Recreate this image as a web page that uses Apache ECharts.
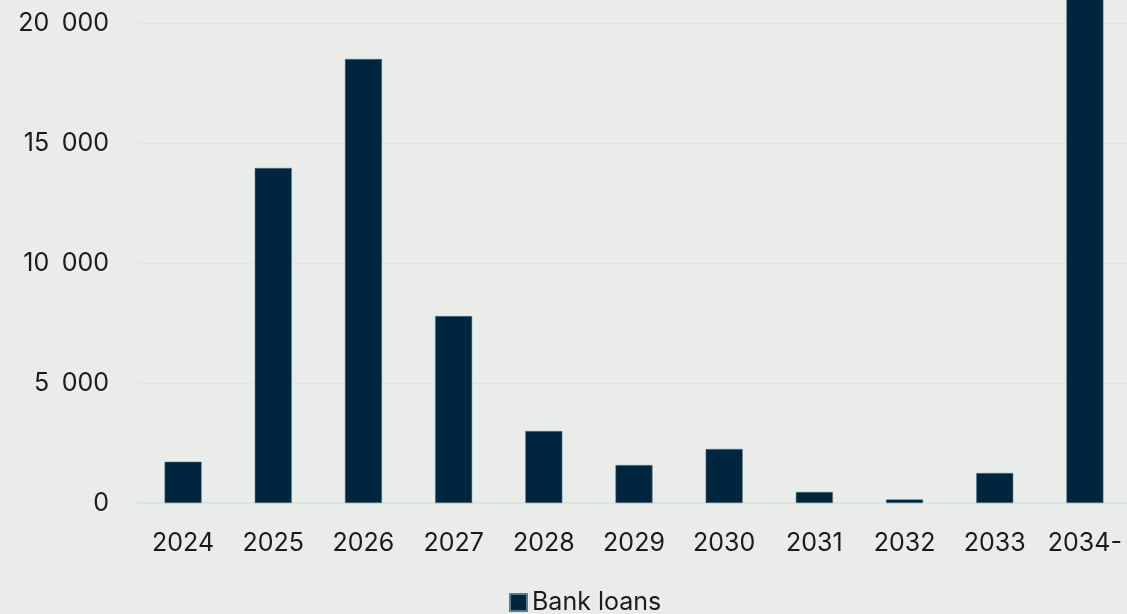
<!DOCTYPE html>
<html>
<head>
<meta charset="utf-8">
<script src="https://cdn.jsdelivr.net/npm/echarts@6/dist/echarts.min.js"></script>
<style>
html,body{margin:0;padding:0;background:#eaecea;}
#c{width:1127px;height:614px;}
</style>
</head>
<body>
<div id="c"></div>
<script>
const categories = ['2024','2025','2026','2027','2028','2029','2030','2031','2032','2033','2034-'];
const bankLoans = [1720, 13960, 18500, 7790, 3000, 1580, 2250, 460, 150, 1250, 24000];
const yTicks = [0, 5000, 10000, 15000, 20000, 25000];
const seriesName = 'Bank loans';

const chart = echarts.init(document.getElementById('c'), null, {renderer:'canvas'});
chart.setOption({
  backgroundColor:'#eaecea',
  animation:false,
  textStyle:{fontFamily:'Inter'},
  grid:{left:138, right:-3, top:-97, bottom:111, containLabel:false, outerBoundsMode:'none'},
  legend:{
    data:[seriesName], top:590, left:509, icon:'rect', itemWidth:17, itemHeight:17, itemGap:6,
    padding:0,
    textStyle:{fontSize:25, color:'#1a1a1a', fontFamily:'Inter'}
  },
  xAxis:{
    type:'category', data:categories,
    axisLine:{show:true, lineStyle:{color:'#d3e6e2', width:2}},
    axisTick:{show:false},
    axisLabel:{interval:0, fontSize:25, color:'#1a1a1a', margin:28, fontFamily:'Inter'}
  },
  yAxis:{
    type:'value', min:yTicks[0], max:yTicks[yTicks.length-1], interval:yTicks[1]-yTicks[0],
    axisLine:{show:false}, axisTick:{show:false},
    splitLine:{lineStyle:{color:'#e1e5e1', width:1}},
    axisLabel:{fontSize:25, color:'#1a1a1a', margin:29, fontFamily:'Inter',
      formatter:v=>String(v).replace(/\B(?=(\d{3})+(?!\d))/g,'\u2002')}
  },
  series:[{
    name:seriesName, type:'bar', data:bankLoans, barWidth:37,
    itemStyle:{color:'#00253f', borderColor:'#5d7a8a', borderWidth:0.5}
  }]
});
</script>
</body>
</html>
